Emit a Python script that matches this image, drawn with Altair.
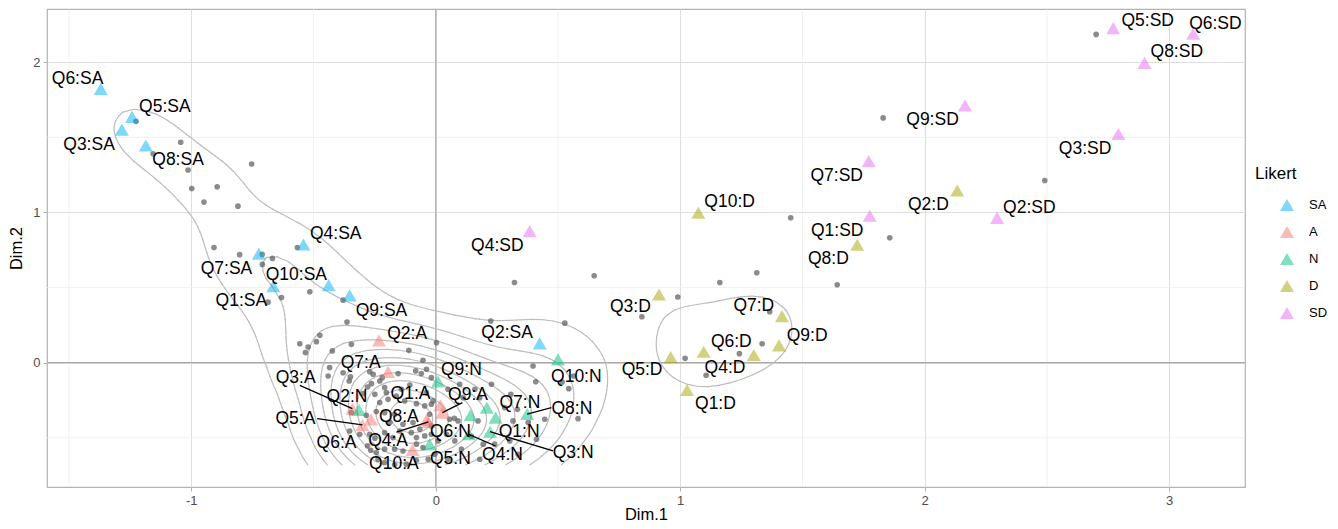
import numpy as np
import pandas as pd
import altair as alt

# ---------------- individuals (grey points) ----------------
ind_x = [
    # SA tail (upper left)
    -1.226, -1.043, -1.156, -0.753, -1.013, -0.998, -0.894, -0.948, -0.809, -0.907,
    -0.802, -0.710, -0.668, -0.709, -0.566, -0.515, -0.631, -0.686, -0.379, -0.363,
    # right side
    2.701, 1.830, 2.491, 1.857, 1.642, 1.452, 0.648, 1.313, 1.162, 0.322,
    0.990, 0.843, 1.366, 1.335, 1.242, 1.020, 1.106, 0.225, 0.528, 0.398,
    0.409, 0.517, 0.564, 0.544, 0.307, 0.334, 0.582, 0.076,
    # central cluster (left half)
    -0.474, -0.556, -0.522, -0.488, -0.533, -0.423, -0.345, -0.110, -0.052, -0.434,
    -0.440, -0.379, -0.349, -0.354, -0.270, -0.256, -0.219, -0.154, -0.082, -0.059,
    -0.263, -0.279, -0.229, -0.209, -0.140, -0.106, -0.297, -0.249, -0.202, -0.161,
    -0.195, -0.229, -0.127, -0.079, -0.045, -0.018, -0.345, -0.284, -0.243, -0.209,
    -0.168, -0.188, -0.134, -0.093, -0.065, -0.018, -0.352, -0.311, -0.270, -0.249,
    -0.209, -0.175, -0.147, -0.100, -0.079, -0.045, -0.018, -0.279, -0.266, -0.243,
    -0.209, -0.168, -0.134, -0.079, -0.052, -0.236, -0.209, -0.168, -0.120, -0.079,
    -0.031,
    # central cluster (right half)
    0.003, 0.228, 0.098, 0.160, -0.038, -0.018, 0.050, 0.112, 0.180, -0.038,
    -0.011, 0.282, 0.316, 0.378, 0.446, -0.025, 0.057, 0.091, 0.173, 0.044,
    0.078, 0.146, 0.194, 0.241, 0.303, 0.010, -0.004, 0.050, 0.105, 0.180,
    0.412, 0.337,
]
ind_y = [
    1.607, 1.468, 1.391, 1.323, 1.283, 1.160, 1.171, 1.069, 1.042, 0.767,
    0.719, 0.721, 0.694, 0.654, 0.767, 0.472, 0.434, 0.403, 0.416, 0.270,
    2.186, 1.630, 1.213, 0.832, 0.519, 0.965, 0.579, 0.599, 0.534, 0.534,
    0.437, 0.306, 0.339, 0.126, 0.060, 0.029, -0.084, 0.277, 0.263, -0.022,
    -0.127, -0.129, -0.089, -0.173, -0.211, -0.311, -0.373, -0.371,
    0.182, 0.126, 0.104, 0.140, 0.067, 0.078, 0.122, 0.082, 0.016, -0.033,
    -0.089, -0.067, -0.095, -0.122, -0.060, -0.078, -0.100, -0.073, -0.055, -0.073,
    -0.140, -0.162, -0.122, -0.166, -0.177, -0.149, -0.206, -0.211, -0.200, -0.222,
    -0.244, -0.266, -0.255, -0.273, -0.288, -0.277, -0.333, -0.350, -0.326, -0.333,
    -0.344, -0.399, -0.410, -0.399, -0.443, -0.421, -0.455, -0.477, -0.477, -0.503,
    -0.466, -0.499, -0.455, -0.466, -0.499, -0.488, -0.477, -0.554, -0.583, -0.599,
    -0.576, -0.576, -0.588, -0.543, -0.565, -0.643, -0.665, -0.680, -0.676, -0.650,
    -0.643,
    0.133, -0.144, -0.144, -0.177, -0.044, -0.100, -0.177, -0.233, -0.233, -0.200,
    -0.255, -0.299, -0.388, -0.399, -0.377, -0.344, -0.377, -0.388, -0.388, -0.477,
    -0.521, -0.490, -0.543, -0.543, -0.521, -0.521, -0.610, -0.643, -0.576, -0.643,
    -0.510, -0.610,
]

# ---------------- categories (triangles) ----------------
likert_levels = ["SA", "A", "N", "D", "SD"]
likert_colors = ["#00B0F6", "#F8766D", "#00BF7D", "#A3A500", "#E76BF3"]

q10 = ["Q1", "Q2", "Q3", "Q4", "Q5", "Q6", "Q7", "Q8", "Q9", "Q10"]
q9 = q10[:9]

sa_x = [-0.664, 0.425, -1.284, -0.541, -1.242, -1.370, -0.724, -1.186, -0.352, -0.438]
sa_y = [0.510, 0.128, 1.552, 0.787, 1.637, 1.823, 0.725, 1.446, 0.448, 0.516]
sa_lx = [-0.795, 0.292, -1.418, -0.409, -1.108, -1.465, -0.856, -1.054, -0.222, -0.570]
sa_ly = [0.410, 0.200, 1.452, 0.854, 1.703, 1.892, 0.625, 1.348, 0.343, 0.587]

a_x = [0.019, -0.232, -0.341, -0.030, -0.300, -0.265, -0.195, -0.038, 0.027, -0.095]
a_y = [-0.284, 0.148, -0.306, -0.395, -0.415, -0.378, -0.062, -0.382, -0.333, -0.581]
a_lx = [-0.103, -0.117, -0.573, -0.195, -0.574, -0.406, -0.307, -0.151, 0.132, -0.171]
a_ly = [-0.211, 0.193, -0.104, -0.522, -0.373, -0.537, 0.000, -0.359, -0.216, -0.677]

n_x = [0.245, -0.314, 0.222, 0.135, -0.025, 0.142, 0.209, 0.374, 0.009, 0.500]
n_y = [-0.366, -0.315, -0.460, -0.477, -0.544, -0.350, -0.300, -0.342, -0.125, 0.022]
n_lx = [0.341, -0.363, 0.562, 0.273, 0.060, 0.060, 0.344, 0.557, 0.105, 0.575]
n_ly = [-0.462, -0.226, -0.599, -0.617, -0.639, -0.462, -0.266, -0.311, -0.049, -0.096]

d_x = [1.028, 2.133, 0.913, 1.301, 0.961, 1.096, 1.416, 1.724, 1.404, 1.074]
d_y = [-0.182, 1.146, 0.454, 0.051, 0.037, 0.073, 0.310, 0.785, 0.115, 0.998]
d_lx = [1.144, 2.015, 0.796, 1.183, 0.844, 1.209, 1.301, 1.606, 1.519, 1.202]
d_ly = [-0.273, 1.053, 0.370, -0.038, -0.049, 0.137, 0.377, 0.693, 0.177, 1.069]

sd_x = [1.775, 2.296, 2.792, 0.384, 2.771, 3.098, 1.771, 2.899, 2.165]
sd_y = [0.978, 0.964, 1.523, 0.876, 2.228, 2.191, 1.341, 1.996, 1.712]
sd_lx = [1.642, 2.428, 2.656, 0.252, 2.912, 3.189, 1.640, 3.031, 2.032]
sd_ly = [0.878, 1.031, 1.424, 0.776, 2.277, 2.257, 1.242, 2.067, 1.614]

# labels joined to their point by a segment (label-side end of segment)
seg_names = ["Q3:A", "Q5:A", "Q4:A", "Q9:A", "Q8:N", "Q4:N", "Q3:N"]
seg_end_x = [-0.556, -0.485, -0.161, 0.109, 0.473, 0.245, 0.480]
seg_end_y = [-0.151, -0.373, -0.462, -0.266, -0.299, -0.555, -0.588]

# ---------------- build tables ----------------
rows = []
for lik, qs, xs, ys, lxs, lys in [
    ("SA", q10, sa_x, sa_y, sa_lx, sa_ly),
    ("A", q10, a_x, a_y, a_lx, a_ly),
    ("N", q10, n_x, n_y, n_lx, n_ly),
    ("D", q10, d_x, d_y, d_lx, d_ly),
    ("SD", q9, sd_x, sd_y, sd_lx, sd_ly),
]:
    for q, x, y, lx, ly in zip(qs, xs, ys, lxs, lys):
        rows.append({"name": f"{q}:{lik}", "likert": lik, "x": x, "y": y, "lx": lx, "ly": ly})
cats = pd.DataFrame(rows)

pos = cats.set_index("name")
segs = pd.DataFrame({
    "x": [pos.loc[n, "x"] for n in seg_names],
    "y": [pos.loc[n, "y"] for n in seg_names],
    "x2": seg_end_x,
    "y2": seg_end_y,
})

ind = pd.DataFrame({"x": ind_x, "y": ind_y})

# ---------------- 2D density (MASS::kde2d style) + contours ----------------
# density of all plotted points (individuals and categories)
px = np.concatenate([np.array(ind_x), cats["x"].values])
py = np.concatenate([np.array(ind_y), cats["y"].values])


def bw_nrd(v):
    q75, q25 = np.percentile(v, [75, 25])
    return 4 * 1.06 * min(np.std(v, ddof=1), (q75 - q25) / 1.34) * len(v) ** (-0.2)


hx = bw_nrd(px) / 4
hy = bw_nrd(py) / 4
ng = 100
gx = np.linspace(px.min(), px.max(), ng)
gy = np.linspace(py.min(), py.max(), ng)


def dnorm(u):
    return np.exp(-0.5 * u * u) / np.sqrt(2 * np.pi)


ax = dnorm((gx[:, None] - px[None, :]) / hx)
ay = dnorm((gy[:, None] - py[None, :]) / hy)
z = ax @ ay.T / (len(px) * hx * hy)  # z[i, j] at (gx[i], gy[j])


def r_pretty(lo, up, n=10):
    h = 1.5
    h5 = 0.5 + 1.5 * h
    cell = (up - lo) / n
    base = 10 ** np.floor(np.log10(cell))
    unit = base
    if 2 * base - cell < h * (cell - unit):
        unit = 2 * base
        if 5 * base - cell < h5 * (cell - unit):
            unit = 5 * base
            if 10 * base - cell < h * (cell - unit):
                unit = 10 * base
    ns = np.floor(lo / unit + 1e-7)
    nu = np.ceil(up / unit - 1e-7)
    return np.arange(ns, nu + 0.5) * unit


levels = [b for b in r_pretty(z.min(), z.max()) if z.min() < b < z.max()]

cseg = []
for L in levels:
    ab = z >= L
    for i in range(ng - 1):
        for j in range(ng - 1):
            c = [(i, j), (i + 1, j), (i + 1, j + 1), (i, j + 1)]
            a = [ab[p] for p in c]
            if all(a) or not any(a):
                continue
            pts = {}
            for e in range(4):
                p1, p2 = c[e], c[(e + 1) % 4]
                if ab[p1] != ab[p2]:
                    v1, v2 = z[p1], z[p2]
                    t = (L - v1) / (v2 - v1)
                    xx = gx[p1[0]] + t * (gx[p2[0]] - gx[p1[0]])
                    yy = gy[p1[1]] + t * (gy[p2[1]] - gy[p1[1]])
                    pts[e] = (xx, yy)
            if len(pts) == 2:
                e1, e2 = list(pts.keys())
                pairs = [(e1, e2)]
            else:
                center = np.mean([z[p] for p in c]) >= L
                if center == a[0]:
                    pairs = [(0, 1), (2, 3)]
                else:
                    pairs = [(3, 0), (1, 2)]
            for e1, e2 in pairs:
                cseg.append((round(pts[e1][0], 4), round(pts[e1][1], 4),
                             round(pts[e2][0], 4), round(pts[e2][1], 4)))
contours = pd.DataFrame(cseg, columns=["x", "y", "x2", "y2"])

# ---------------- grid helpers ----------------
minor_x = [-1.5, -0.5, 0.5, 1.5, 2.5]
minor_y = [-0.5, 0.5, 1.5]
zero = [0.0]

# ---------------- encodings ----------------
FONT = "Liberation Sans"
xscale = alt.Scale(domain=[-1.59, 3.31], nice=False, zero=False)
yscale = alt.Scale(domain=[-0.828, 2.355], nice=False, zero=False)
xaxis = alt.Axis(title="Dim.1", values=[-1, 0, 1, 2, 3], labelExpr="datum.value + ''",
                 grid=True, gridColor="#DEDEDE", gridWidth=1, domain=False,
                 ticks=True, tickColor="#B3B3B3", tickSize=4, tickWidth=1,
                 labelFontSize=13, labelColor="#4D4D4D", labelPadding=3, labelFont=FONT,
                 titleFontSize=16.5, titleFontWeight="normal", titleColor="black",
                 titleFont=FONT, titlePadding=-1)
yaxis = alt.Axis(title="Dim.2", values=[0, 1, 2], labelExpr="datum.value + ''",
                 grid=True, gridColor="#DEDEDE", gridWidth=1, domain=False,
                 ticks=True, tickColor="#B3B3B3", tickSize=4, tickWidth=1,
                 labelFontSize=13, labelColor="#4D4D4D", labelPadding=3, labelFont=FONT,
                 titleFontSize=16.5, titleFontWeight="normal", titleColor="black",
                 titleFont=FONT, titlePadding=8)


def X(f):
    return alt.X(f, type="quantitative", scale=xscale, axis=xaxis)


def Y(f):
    return alt.Y(f, type="quantitative", scale=yscale, axis=yaxis)


minor_v = alt.Chart(pd.DataFrame({"v": minor_x})).mark_rule(
    color="#EBEBEB", strokeWidth=0.7).encode(x=X("v"))
minor_h = alt.Chart(pd.DataFrame({"v": minor_y})).mark_rule(
    color="#EBEBEB", strokeWidth=0.7).encode(y=Y("v"))
zero_v = alt.Chart(pd.DataFrame({"v": zero})).mark_rule(
    color="#A8A8A8", strokeWidth=1.2).encode(x=X("v"))
zero_h = alt.Chart(pd.DataFrame({"v": zero})).mark_rule(
    color="#A8A8A8", strokeWidth=1.2).encode(y=Y("v"))

contour_layer = alt.Chart(contours).mark_rule(
    color="#BEBEBE", strokeWidth=1.2, strokeCap="round").encode(
    x=X("x"), y=Y("y"), x2="x2", y2="y2")

points = alt.Chart(ind).mark_circle(size=32, color="#5A5A5A", opacity=0.7).encode(
    x=X("x"), y=Y("y"))

triangles = alt.Chart(cats).mark_point(
    shape="triangle-up", filled=True, size=196, opacity=0.5, strokeWidth=0).encode(
    x=X("x"), y=Y("y"),
    color=alt.Color("likert:N",
                    scale=alt.Scale(domain=likert_levels, range=likert_colors),
                    legend=alt.Legend(title="Likert", orient="none", legendX=1208, legendY=157,
                                      titleFontSize=17, titleFontWeight="normal",
                                      titleColor="black", titleFont=FONT, titlePadding=15,
                                      labelFontSize=13, labelColor="black", labelFont=FONT,
                                      symbolType="triangle-up", symbolSize=196,
                                      symbolOpacity=0.5, symbolStrokeWidth=0,
                                      rowPadding=13, symbolOffset=25, labelOffset=15,
                                      padding=0)))

seg_layer = alt.Chart(segs).mark_rule(color="black", strokeWidth=1.3).encode(
    x=X("x"), y=Y("y"), x2="x2", y2="y2")

labels = alt.Chart(cats).mark_text(
    font=FONT, fontSize=17.5, color="black", align="center", baseline="middle").encode(
    x=X("lx"), y=Y("ly"), text="name:N")

chart = alt.layer(
    minor_v, minor_h, zero_v, zero_h, contour_layer, points, triangles, seg_layer, labels
).properties(
    width=1198, height=478,
    padding={"left": 39, "top": 1, "right": 85, "bottom": 34},
    autosize="none",
    background="white",
).configure_view(stroke="#B3B3B3", strokeWidth=1.2)

chart.save("out.html", embed_options={"renderer": "svg", "actions": False})
